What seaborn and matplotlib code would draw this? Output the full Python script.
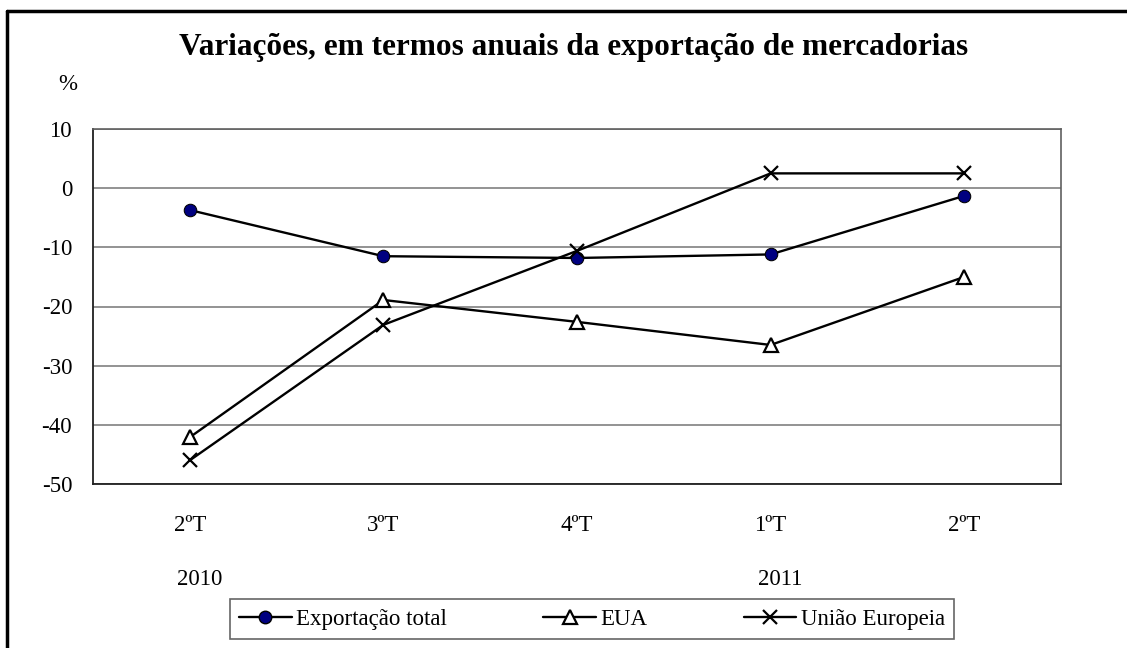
import pandas as pd
import matplotlib.pyplot as plt
import seaborn as sns
from matplotlib.lines import Line2D

# dados
trimestres = ["2T2010", "3T2010", "4T2010", "1T2011", "2T2011"]
rotulos = ["2ºT", "3ºT", "4ºT", "1ºT", "2ºT"]
anos = ["2010", "2011"]
exp_total = [-3.7, -11.5, -11.8, -11.2, -1.3]
eua = [-42.1, -18.9, -22.6, -26.5, -15.0]
ue = [-46.0, -23.1, -10.6, 2.5, 2.5]

df = pd.DataFrame({"trimestre": trimestres, "Exportação total": exp_total,
                   "EUA": eua, "União Europeia": ue})

sns.set_theme(style="white")
plt.rcParams['font.family'] = ['Liberation Serif', 'DejaVu Serif']
plt.rcParams['axes.unicode_minus'] = False
plt.rcParams['text.color'] = 'black'
plt.rcParams['xtick.labelcolor'] = 'black'
plt.rcParams['ytick.labelcolor'] = 'black'

fig = plt.figure(figsize=(11.27, 6.48), dpi=100)
ax = fig.add_axes([93 / 1127, 1 - 484 / 648, (1061 - 93) / 1127, (484 - 129) / 648])

estilos = {
    "Exportação total": dict(marker="o", markerfacecolor="#000080", markeredgecolor="black", markersize=9),
    "EUA": dict(marker="^", markerfacecolor="white", markeredgecolor="black", markersize=10, markeredgewidth=1.6),
    "União Europeia": dict(marker="x", markeredgecolor="black", markersize=10, markeredgewidth=1.6),
}
for serie, kw in estilos.items():
    sns.lineplot(data=df, x="trimestre", y=serie, color="black", linewidth=1.7,
                 ax=ax, sort=False, **kw)

fs = 16.5
ax.set_xlim(-0.5, 4.5)
ax.set_ylim(-50, 10)
ax.set_yticks(range(-50, 11, 10))
ax.set_xticks(range(len(rotulos)))
ax.set_xticklabels(rotulos)
ax.set_xlabel("")
ax.set_ylabel("")
ax.yaxis.grid(True, color="#808080", linewidth=1.2)
ax.tick_params(axis="y", direction="in", length=6, width=1.2, color="#404040", labelsize=fs, pad=15, labelcolor="black")
ax.tick_params(axis="x", length=0, labelsize=fs, pad=22, labelcolor="black")
for s in ["left", "bottom"]:
    ax.spines[s].set_color("#202020")
    ax.spines[s].set_linewidth(1.3)
for s in ["top", "right"]:
    ax.spines[s].set_color("#606060")
    ax.spines[s].set_linewidth(1.2)

# anos
for i, ano in zip([0, 3], anos):
    ax.text(i + 0.05, -0.27, ano, transform=ax.get_xaxis_transform(), ha="center", va="center",
            fontsize=fs, color="black")

fig.text(68 / 1127, 1 - 85 / 648, "%", ha="center", va="center", fontsize=fs, color="black")
fig.text(574 / 1127, 1 - 48 / 648, "Variações, em termos anuais da exportação de mercadorias",
         ha="center", va="center", fontsize=22.5, fontweight="bold", color="black")

# legenda
handles = [Line2D([], [], color="black", linewidth=1.7, **kw) for kw in estilos.values()]
leg = fig.legend(handles, list(estilos.keys()), loc="center", bbox_to_anchor=(592 / 1127, 1 - 619 / 648),
                 ncol=3, frameon=True, fancybox=False, fontsize=fs, handlelength=2.3,
                 columnspacing=4.2, handletextpad=0.2, borderpad=0.4, borderaxespad=0.0,
                 labelcolor="black")
leg.get_frame().set_edgecolor("#404040")
leg.get_frame().set_linewidth(1.2)

# moldura
fig.add_artist(Line2D([7 / 1127, 7 / 1127], [0, 1 - 11 / 648], color="black", linewidth=2.5, transform=fig.transFigure))
fig.add_artist(Line2D([7 / 1127, 1], [1 - 11 / 648, 1 - 11 / 648], color="black", linewidth=2.5, transform=fig.transFigure))

fig.savefig("out.png", dpi=100)
